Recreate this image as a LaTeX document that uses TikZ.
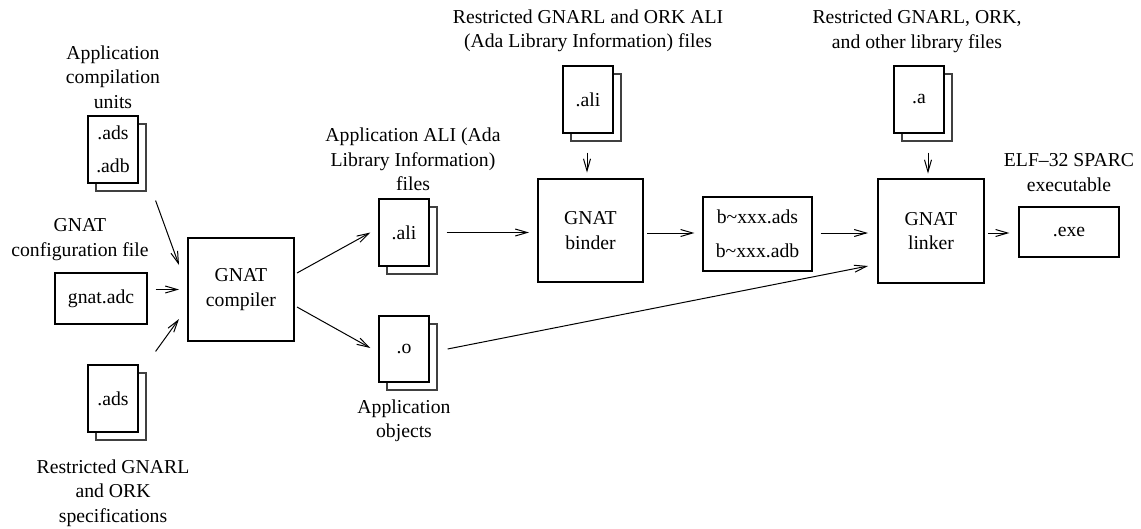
\documentclass[tikz,border=0pt]{standalone}
\usepackage{fontspec}
\setmainfont{Liberation Serif}
\newfontfamily\diagfont{Liberation Serif}
\usetikzlibrary{arrows.meta,shadows,calc}
\begin{document}
\begin{tikzpicture}[x=1pt,y=-1pt,
  every node/.style={font=\diagfont\fontsize{19.7}{24.5}\selectfont, inner sep=0pt},
  doc/.style={draw, line width=1.2pt, fill=white, minimum width=50pt, minimum height=67pt, align=center,
    copy shadow={shadow xshift=8pt, shadow yshift=-8pt, draw=black!75, fill=white, line width=1.2pt}},
  proc/.style={draw, line width=2pt, minimum width=106pt, minimum height=103pt, align=center},
  filebox/.style={draw, line width=1.2pt, align=center},
  lbl/.style={align=center},
  arr/.style={line width=1pt, -{Straight Barb[length=12pt,width=7pt,line width=1pt]}}
]
\useasboundingbox (0,0) rectangle (1141,528);

% left column
\node[lbl] (lunits) at (113,77) {Application\\compilation\\units};
\node[doc] (docA) at (113,149.5) {.ads\\[8pt].adb};
\node[lbl] (lcfg) at (80,239.5) {GNAT\\configuration file};
\node[filebox, minimum width=92pt, minimum height=51pt] (adc) at (101,298.5) {gnat.adc};
\node[doc] (docB) at (113,398.5) {.ads};
\node[lbl] (lspec) at (113,493) {Restricted GNARL\\and ORK\\specifications};

% compiler
\node[proc] (comp) at (241,289.5) {GNAT\\compiler};

% ali / o
\node[lbl] (lali) at (413,159.5) {Application ALI (Ada\\Library Information)\\files};
\node[doc] (ali) at (404,232.5) {.ali};
\node[doc, minimum height=66pt] (obj) at (404,349) {.o};
\node[lbl] (lobj) at (404,421) {Application\\objects};

% binder
\node[lbl] (lali2) at (588,31) {Restricted GNARL and ORK ALI\\(Ada Library Information) files};
\node[doc] (ali2) at (588,99.5) {.ali};
\node[proc, minimum width=105pt] (binder) at (590.5,230.5) {GNAT\\binder};
\node[filebox, minimum width=109pt, minimum height=74pt] (bx) at (757.5,234) {b\textasciitilde xxx.ads\\[9pt]b\textasciitilde xxx.adb};

% linker
\node[lbl] (la) at (917,31.5) {Restricted GNARL, ORK,\\and other library files};
\node[doc] (adoc) at (919,99.5) {.a};
\node[proc, minimum height=104pt] (linker) at (931,231) {GNAT\\linker};
\node[lbl] (lexe) at (1069,172.5) {ELF\textendash32 SPARC\\executable};
\node[filebox, minimum width=100pt, minimum height=50pt] (exe) at (1069,232) {.exe};

% connectors
\draw[arr] ($(docA.south east)+(17,17)$) -- ($(comp.west)+(-8,-24.5)$);
\draw[arr] ($(adc.east |- comp.west)+(8,0)$) -- ($(comp.west)+(-8,0)$);
\draw[arr] ($(docB.north east)+(17,-13)$) -- ($(comp.west)+(-8,29.5)$);
\draw[arr] ($(comp.east)+(2,-16.5)$) -- ($(ali.west)+(-8,0)$);
\draw[arr] ($(comp.east)+(2,17.5)$) -- ($(obj.west)+(-8,-1)$);
\draw[arr] ($(ali.east)+(17,0)$) -- ($(ali.east -| binder.west)+(-8,0)$);
\draw[arr] ($(ali2.south)+(-1,19)$) -- ($(ali2.south -| binder.north)+(-3.5,39)$);
\draw[arr] ($(binder.east)+(3,2.5)$) -- ($(binder.east -| bx.west)+(-8,2.5)$);
\draw[arr] ($(bx.east)+(8,-1)$) -- ($(bx.east -| linker.west)+(-9,-1)$);
\draw[arr] ($(obj.east)+(18,0)$) -- ($(linker.west)+(-9,35)$);
\draw[arr] ($(adoc.south)+(9,19)$) -- ($(adoc.south)+(9,40)$);
\draw[arr] ($(linker.east)+(3,2)$) -- ($(exe.west)+(-9,1)$);
\end{tikzpicture}
\end{document}
